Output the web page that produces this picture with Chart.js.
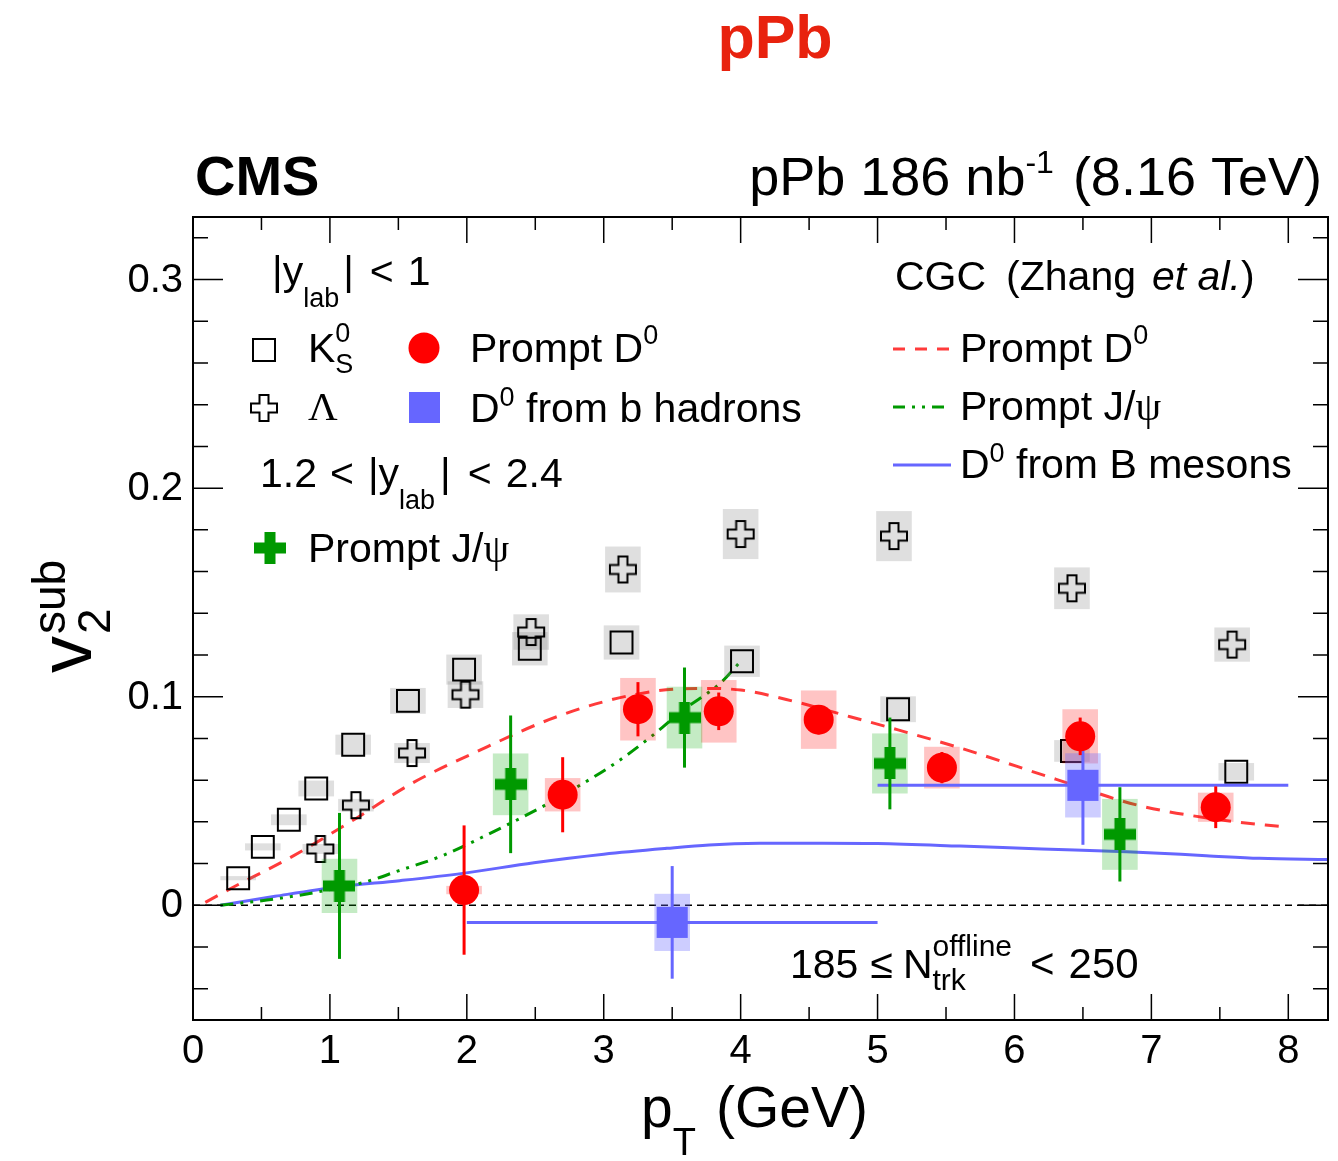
<!DOCTYPE html>
<html><head><meta charset="utf-8">
<script src="https://cdn.jsdelivr.net/npm/chart.js@4/dist/chart.umd.min.js"></script>
<style>html,body{margin:0;padding:0;background:#fff;}canvas{display:block;}</style>
</head><body>
<canvas id="c" width="1338" height="1161"></canvas>
<script>
const FONT = '"Liberation Sans", Arial, Helvetica, sans-serif';
const SERIF = '"Liberation Serif", "DejaVu Serif", serif';

// ---- axis ticks ----
const xTickValues = [0, 1, 2, 3, 4, 5, 6, 7, 8];
const xTickLabels = ['0', '1', '2', '3', '4', '5', '6', '7', '8'];
const yTickValues = [0, 0.1, 0.2, 0.3];
const yTickLabels = ['0', '0.1', '0.2', '0.3'];

// ---- K0S (|y_lab|<1) ----
const k0sPt  = [0.33, 0.51, 0.70, 0.90, 1.17, 1.57, 1.98, 2.46, 3.13, 4.01, 5.15, 6.42, 7.62];
const k0sV   = [0.013, 0.028, 0.041, 0.056, 0.077, 0.098, 0.113, 0.123, 0.126, 0.117, 0.094, 0.074, 0.064];
const k0sSys = [0.001, 0.0017, 0.0026, 0.0038, 0.0048, 0.0062, 0.0072, 0.008, 0.0082, 0.0075, 0.0062, 0.0052, 0.0042];

// ---- Lambda ----
const lamPt  = [0.93, 1.19, 1.60, 1.99, 2.47, 3.14, 4.00, 5.12, 6.42, 7.59];
const lamV   = [0.027, 0.048, 0.073, 0.101, 0.131, 0.161, 0.178, 0.177, 0.152, 0.125];
const lamSys = [0.0024, 0.003, 0.0048, 0.0064, 0.0085, 0.011, 0.012, 0.012, 0.010, 0.0082];

// ---- Prompt D0 ----
const d0Pt   = [1.98, 2.70, 3.25, 3.84, 4.57, 5.47, 6.48, 7.47];
const d0V    = [0.0073, 0.053, 0.094, 0.093, 0.089, 0.066, 0.081, 0.047];
const d0Stat = [0.031, 0.018, 0.013, 0.009, 0.007, 0.0075, 0.009, 0.010];
const d0Sys  = [0.002, 0.008, 0.015, 0.015, 0.014, 0.010, 0.013, 0.007];

// ---- Prompt J/psi (1.2<|y_lab|<2.4) ----
const jpPt   = [1.07, 2.32, 3.59, 5.09, 6.77];
const jpV    = [0.0093, 0.058, 0.090, 0.068, 0.034];
const jpStat = [0.035, 0.033, 0.024, 0.022, 0.0226];
const jpSys  = [0.013, 0.0148, 0.0148, 0.0144, 0.017];

// ---- D0 from b hadrons ----
const bPt    = [3.5, 6.5];
const bLow   = [2, 5];
const bHigh  = [5, 8];
const bV     = [-0.0082, 0.0575];
const bStat  = [0.027, 0.0285];
const bSys   = [0.0137, 0.0154];

// ---- CGC (Zhang et al.) ----
const cgcD0Pt = [0.09, 0.3, 0.7, 1.15, 1.6, 2.1, 2.6, 3.0, 3.4, 3.7, 4.0, 4.4, 4.8, 5.1, 5.6, 6.3, 6.9, 7.5, 8.0];
const cgcD0V  = [0.0014, 0.0089, 0.0225, 0.040, 0.0585, 0.0745, 0.089, 0.0976, 0.1029, 0.104, 0.1032, 0.0976, 0.0904, 0.085, 0.0755, 0.0605, 0.048, 0.041, 0.0374];
const cgcJpPt = [0.2, 0.6, 1.0, 1.25, 1.5, 1.83, 2.17, 2.53, 2.83, 3.1, 3.36, 3.58, 3.85, 4.0];
const cgcJpV  = [0, 0.003, 0.0075, 0.011, 0.0165, 0.024, 0.0345, 0.0465, 0.0577, 0.0688, 0.0816, 0.0936, 0.1064, 0.117];
const cgcBPt  = [0.2, 0.6, 1.07, 1.51, 1.97, 2.49, 3.0, 3.46, 3.77, 4.14, 4.6, 5.0, 5.6, 6.2, 6.82, 7.4, 7.79, 8.29];
const cgcBV   = [0, 0.0043, 0.0089, 0.0118, 0.0153, 0.0204, 0.0245, 0.0273, 0.0289, 0.0297, 0.0298, 0.0296, 0.0284, 0.027, 0.0257, 0.0238, 0.0225, 0.022];

// ---- style ----
const RED = '#ff0000', RED_BOX = 'rgba(255,0,0,0.23)', RED_CURVE = '#ff3b3b';
const GREEN = '#009900', GREEN_BOX = 'rgba(0,170,0,0.23)';
const BLUE = '#6666ff', BLUE_BOX = 'rgba(102,102,255,0.33)';
const GRAY_BOX = 'rgba(128,128,128,0.25)';
const BOX_HW = 0.13;

const pts = (xs, ys) => xs.map((x, i) => ({x: x, y: ys[i]}));

function makeCross(span, thick, fill, stroke, lw) {
  const pad = lw ? Math.ceil(lw) : 0;
  const c = document.createElement('canvas');
  c.width = c.height = span + 2 * pad;
  const g = c.getContext('2d');
  const o = pad, t = thick / 2, m = o + span / 2, e = o + span;
  g.beginPath();
  g.moveTo(m - t, o); g.lineTo(m + t, o); g.lineTo(m + t, m - t); g.lineTo(e, m - t);
  g.lineTo(e, m + t); g.lineTo(m + t, m + t); g.lineTo(m + t, e); g.lineTo(m - t, e);
  g.lineTo(m - t, m + t); g.lineTo(o, m + t); g.lineTo(o, m - t); g.lineTo(m - t, m - t);
  g.closePath();
  if (fill) { g.fillStyle = fill; g.fill(); }
  if (stroke) { g.strokeStyle = stroke; g.lineWidth = lw; g.stroke(); }
  return c;
}
const openCross = makeCross(26, 9, null, '#000', 2);
const greenCross = makeCross(32, 11, GREEN, null, 0);

function fnt(p) { return (p.st || 'normal') + ' ' + (p.w || 'normal') + ' ' + (p.s || 41) + 'px ' + (p.f || FONT); }
function drawRich(ctx, x, y, segs, align) {
  ctx.textBaseline = 'alphabetic'; ctx.textAlign = 'left';
  let total = 0;
  const items = segs.map(s => {
    let w;
    if (s.stack) {
      w = Math.max.apply(null, s.stack.map(p => { ctx.font = fnt(p); return ctx.measureText(p.t).width; }));
    } else { ctx.font = fnt(s); w = ctx.measureText(s.t).width; }
    total += w + (s.gap || 0);
    return {s: s, w: w};
  });
  let cx = align === 'right' ? x - total : align === 'center' ? x - total / 2 : x;
  for (const it of items) {
    const s = it.s;
    const parts = s.stack ? s.stack : [s];
    for (const p of parts) {
      ctx.font = fnt(p); ctx.fillStyle = p.c || s.c || '#000';
      ctx.fillText(p.t, cx, y + (p.dy || 0));
    }
    cx += it.w + (s.gap || 0);
  }
}

function vbox(ctx, xs, ys, x, y, hh, color) {
  const l = xs.getPixelForValue(x - BOX_HW), r = xs.getPixelForValue(x + BOX_HW);
  const t = ys.getPixelForValue(y + hh), b = ys.getPixelForValue(y - hh);
  ctx.fillStyle = color; ctx.fillRect(l, t, r - l, b - t);
}
function vline(ctx, xs, ys, x, y0, y1, color) {
  ctx.strokeStyle = color; ctx.lineWidth = 3; ctx.setLineDash([]);
  ctx.beginPath(); ctx.moveTo(xs.getPixelForValue(x), ys.getPixelForValue(y0));
  ctx.lineTo(xs.getPixelForValue(x), ys.getPixelForValue(y1)); ctx.stroke();
}
function hline(ctx, xs, ys, x0, x1, y, color) {
  ctx.strokeStyle = color; ctx.lineWidth = 3; ctx.setLineDash([]);
  ctx.beginPath(); ctx.moveTo(xs.getPixelForValue(x0), ys.getPixelForValue(y));
  ctx.lineTo(xs.getPixelForValue(x1), ys.getPixelForValue(y)); ctx.stroke();
}

const plotPlugin = {
  id: 'plotDeco',
  beforeDatasetsDraw(chart) {
    const ctx = chart.ctx, xs = chart.scales.x, ys = chart.scales.y;
    ctx.save();
    ctx.strokeStyle = '#000'; ctx.lineWidth = 1.5; ctx.setLineDash([7, 5]);
    ctx.beginPath(); ctx.moveTo(xs.left, ys.getPixelForValue(0)); ctx.lineTo(xs.right, ys.getPixelForValue(0)); ctx.stroke();
    ctx.restore();
  },
  beforeDatasetDraw(chart, args) {
    const ds = chart.data.datasets[args.index];
    const ctx = chart.ctx, xs = chart.scales.x, ys = chart.scales.y, a = chart.chartArea;
    ctx.save();
    ctx.beginPath(); ctx.rect(a.left, a.top, a.right - a.left, a.bottom - a.top); ctx.clip();
    if (ds.label === 'K0S') {
      k0sPt.forEach((x, i) => vbox(ctx, xs, ys, x, k0sV[i], k0sSys[i], GRAY_BOX));
      lamPt.forEach((x, i) => vbox(ctx, xs, ys, x, lamV[i], lamSys[i], GRAY_BOX));
    }
    if (ds.label === 'Prompt D0') {
      d0Pt.forEach((x, i) => vbox(ctx, xs, ys, x, d0V[i], d0Sys[i], RED_BOX));
      jpPt.forEach((x, i) => vbox(ctx, xs, ys, x, jpV[i], jpSys[i], GREEN_BOX));
      bPt.forEach((x, i) => vbox(ctx, xs, ys, x, bV[i], bSys[i], BLUE_BOX));
      bPt.forEach((x, i) => {
        hline(ctx, xs, ys, bLow[i], bHigh[i], bV[i], BLUE);
        vline(ctx, xs, ys, x, bV[i] - bStat[i], bV[i] + bStat[i], BLUE);
      });
      d0Pt.forEach((x, i) => vline(ctx, xs, ys, x, d0V[i] - d0Stat[i], d0V[i] + d0Stat[i], RED));
      jpPt.forEach((x, i) => vline(ctx, xs, ys, x, jpV[i] - jpStat[i], jpV[i] + jpStat[i], GREEN));
    }
    ctx.restore();
  },
  afterDraw(chart) {
    const ctx = chart.ctx, xs = chart.scales.x, ys = chart.scales.y, a = chart.chartArea;
    ctx.save();
    // frame
    ctx.strokeStyle = '#000'; ctx.lineWidth = 2; ctx.setLineDash([]);
    ctx.strokeRect(a.left, a.top, a.right - a.left, a.bottom - a.top);
    // ticks (inward, all four sides)
    ctx.lineWidth = 1.5;
    ctx.beginPath();
    for (let k = -2; k <= 16; k++) {
      const v = k * 0.02; const py = ys.getPixelForValue(v);
      if (py < a.top || py > a.bottom) continue;
      const len = (k % 5 === 0) ? 30 : 15;
      ctx.moveTo(a.left, py); ctx.lineTo(a.left + len, py);
      ctx.moveTo(a.right, py); ctx.lineTo(a.right - len, py);
    }
    for (let k = 0; k <= 16; k++) {
      const v = k * 0.5; const px = xs.getPixelForValue(v);
      const len = (k % 2 === 0) ? 26 : 13;
      ctx.moveTo(px, a.bottom); ctx.lineTo(px, a.bottom - len);
      ctx.moveTo(px, a.top); ctx.lineTo(px, a.top + len);
    }
    ctx.stroke();

    // tick labels (positioned through the scales)
    ctx.fillStyle = '#000'; ctx.font = '40px ' + FONT;
    ctx.textAlign = 'center'; ctx.textBaseline = 'top';
    xTickValues.forEach((v, i) => ctx.fillText(xTickLabels[i], xs.getPixelForValue(v), a.bottom + 12));
    ctx.textAlign = 'right'; ctx.textBaseline = 'middle';
    yTickValues.forEach((v, i) => ctx.fillText(yTickLabels[i], a.left - 10, ys.getPixelForValue(v) + 1));

    // titles
    drawRich(ctx, 775, 58, [{t: 'pPb', s: 61, w: 'bold', c: '#e8220e'}], 'center');
    drawRich(ctx, 195, 195, [{t: 'CMS', s: 56, w: 'bold'}]);
    drawRich(ctx, 1322, 195, [{t: 'pPb 186 nb', s: 54}, {t: '-1', s: 32, dy: -22, gap: 4}, {t: ' (8.16 TeV)', s: 54}], 'right');

    // axis titles
    drawRich(ctx, 641, 1127, [{t: 'p', s: 57}, {t: 'T', s: 38, dy: 28, gap: 20}, {t: '(GeV)', s: 57}]);
    ctx.save();
    ctx.translate(91, 673); ctx.rotate(-Math.PI / 2);
    drawRich(ctx, 0, 0, [{t: 'v', s: 74, gap: 2}, {stack: [{t: 'sub', s: 46, dy: -26}, {t: '2', s: 46, dy: 19}]}]);
    ctx.restore();

    // legend (left)
    drawRich(ctx, 272, 285, [{t: '|y', s: 41}, {t: 'lab', s: 27, dy: 22, gap: 4}, {t: '|', s: 41, gap: 16}, {t: '<', s: 41, gap: 14}, {t: '1', s: 41}]);
    ctx.strokeStyle = '#000'; ctx.lineWidth = 2;
    ctx.strokeRect(253, 339, 22, 22);
    drawRich(ctx, 308, 362, [{t: 'K', s: 41}, {stack: [{t: '0', s: 27, dy: -20}, {t: 'S', s: 27, dy: 11}]}]);
    ctx.fillStyle = RED; ctx.beginPath(); ctx.arc(424, 348, 15.5, 0, Math.PI * 2); ctx.fill();
    drawRich(ctx, 470, 362, [{t: 'Prompt D', s: 41}, {t: '0', s: 27, dy: -18}]);
    ctx.drawImage(openCross, 264 - openCross.width / 2, 408 - openCross.height / 2);
    drawRich(ctx, 308, 420, [{t: 'Λ', s: 41, f: SERIF}]);
    ctx.fillStyle = BLUE; ctx.fillRect(409, 392, 31, 31);
    drawRich(ctx, 470, 422, [{t: 'D', s: 41}, {t: '0', s: 27, dy: -16}, {t: ' from b hadrons', s: 41}]);
    drawRich(ctx, 260, 487, [{t: '1.2', s: 41, gap: 13}, {t: '<', s: 41, gap: 14}, {t: '|y', s: 41}, {t: 'lab', s: 27, dy: 22, gap: 5}, {t: '|', s: 41, gap: 17}, {t: '<', s: 41, gap: 14}, {t: '2.4', s: 41}]);
    ctx.drawImage(greenCross, 270 - greenCross.width / 2, 548 - greenCross.height / 2);
    drawRich(ctx, 308, 562, [{t: 'Prompt J/', s: 41}, {t: 'ψ', s: 41, f: SERIF}]);

    // legend (right)
    drawRich(ctx, 895, 290, [{t: 'CGC', s: 41, gap: 20}, {t: '(Zhang', s: 41, gap: 16}, {t: 'et al.', s: 41, st: 'italic'}, {t: ')', s: 41}]);
    const sample = (y, color, dash) => {
      ctx.strokeStyle = color; ctx.lineWidth = 3; ctx.setLineDash(dash);
      ctx.beginPath(); ctx.moveTo(893, y); ctx.lineTo(951, y); ctx.stroke(); ctx.setLineDash([]);
    };
    sample(349, RED_CURVE, [12, 10]);
    drawRich(ctx, 960, 362, [{t: 'Prompt D', s: 41}, {t: '0', s: 27, dy: -18}]);
    sample(407, GREEN, [12, 7, 3, 7, 3, 7]);
    drawRich(ctx, 960, 420, [{t: 'Prompt J/', s: 41}, {t: 'ψ', s: 41, f: SERIF}]);
    sample(465, BLUE, []);
    drawRich(ctx, 960, 478, [{t: 'D', s: 41}, {t: '0', s: 27, dy: -16}, {t: ' from B mesons', s: 41}]);

    drawRich(ctx, 790, 978, [{t: '185', s: 41, gap: 12}, {t: '≤', s: 41, gap: 10}, {t: 'N', s: 41}, {stack: [{t: 'offline', s: 30, dy: -22}, {t: 'trk', s: 30, dy: 12}], gap: 18}, {t: '<', s: 42, gap: 14}, {t: '250', s: 42}]);
    ctx.restore();
  }
};

new Chart(document.getElementById('c'), {
  type: 'scatter',
  data: {
    datasets: [
      {label: 'CGC Prompt D0', data: pts(cgcD0Pt, cgcD0V), showLine: true, borderColor: RED_CURVE, borderWidth: 3,
       borderDash: [14, 10], pointRadius: 0, cubicInterpolationMode: 'monotone', fill: false, order: 10},
      {label: 'CGC Prompt J/psi', data: pts(cgcJpPt, cgcJpV), showLine: true, borderColor: GREEN, borderWidth: 3,
       borderDash: [13, 7, 3, 7, 3, 7], pointRadius: 0, cubicInterpolationMode: 'monotone', fill: false, order: 10},
      {label: 'CGC D0 from B', data: pts(cgcBPt, cgcBV), showLine: true, borderColor: BLUE, borderWidth: 3,
       pointRadius: 0, cubicInterpolationMode: 'monotone', fill: false, order: 10},
      {label: 'K0S', data: pts(k0sPt, k0sV), pointStyle: 'rect', radius: 15.5, backgroundColor: 'rgba(0,0,0,0)',
       borderColor: '#000', borderWidth: 2, order: 8},
      {label: 'Lambda', data: pts(lamPt, lamV), pointStyle: openCross, radius: 14, order: 7},
      {label: 'Prompt D0', data: pts(d0Pt, d0V), pointStyle: 'circle', radius: 15, backgroundColor: RED,
       borderColor: RED, borderWidth: 0, order: 3},
      {label: 'Prompt J/psi', data: pts(jpPt, jpV), pointStyle: greenCross, radius: 16, order: 2},
      {label: 'D0 from b', data: pts(bPt, bV), pointStyle: 'rect', radius: 22, backgroundColor: BLUE,
       borderColor: BLUE, borderWidth: 0, order: 1}
    ]
  },
  options: {
    responsive: false,
    animation: false,
    events: [],
    layout: {autoPadding: false, padding: {top: 217, right: 10, left: 0, bottom: 0}},
    plugins: {legend: {display: false}, tooltip: {enabled: false}, title: {display: false}},
    scales: {
      x: {
        type: 'linear', min: 0, max: 8.29,
        grid: {display: false, drawTicks: false}, border: {display: false},
        ticks: {display: false},
        afterBuildTicks: s => { s.ticks = xTickValues.map(v => ({value: v})); },
        afterFit: s => { s.height = 141; }
      },
      y: {
        type: 'linear', min: -0.055, max: 0.33,
        grid: {display: false, drawTicks: false}, border: {display: false},
        ticks: {display: false},
        afterBuildTicks: s => { s.ticks = yTickValues.map(v => ({value: v})); },
        afterFit: s => { s.width = 193; }
      }
    }
  },
  plugins: [plotPlugin]
});
</script>
</body></html>
